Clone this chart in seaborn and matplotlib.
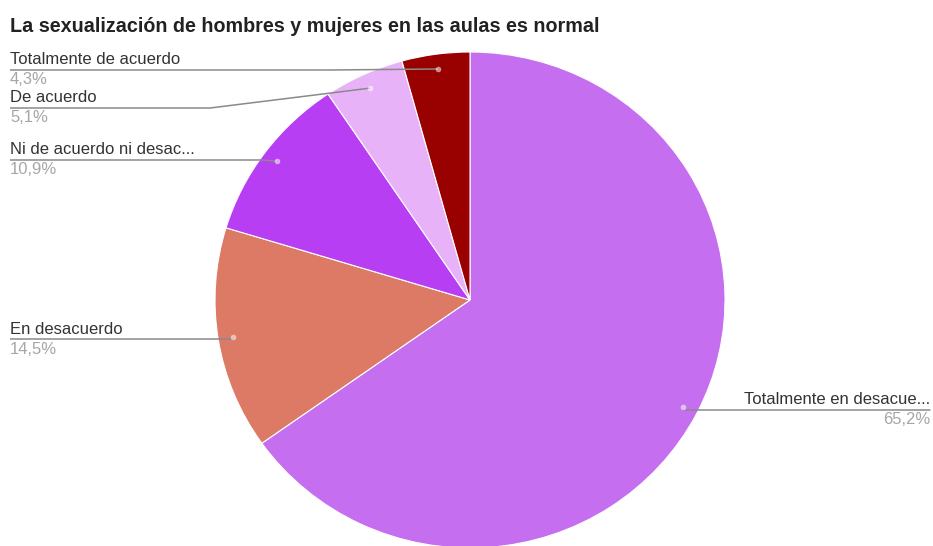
import numpy as np
import matplotlib
matplotlib.use('Agg')
import matplotlib.pyplot as plt
import seaborn as sns

# data (order: clockwise from 12 o'clock)
categories = ["Totalmente en desacuerdo", "En desacuerdo", "Ni de acuerdo ni desacuerdo",
              "De acuerdo", "Totalmente de acuerdo"]
short_labels = ["Totalmente en desacue...", "En desacuerdo", "Ni de acuerdo ni desac...",
                "De acuerdo", "Totalmente de acuerdo"]
percent = [65.2, 14.5, 10.9, 5.1, 4.3]
pct_labels = ["65,2%", "14,5%", "10,9%", "5,1%", "4,3%"]
colors = ["#c56ff0", "#dc7a66", "#b83ef4", "#e8b2f8", "#990000"]

title = "La sexualización de hombres y mujeres en las aulas es normal"

W, H = 933, 546
sns.set_theme(style="white")
plt.rcParams['font.family'] = ['Liberation Sans', 'DejaVu Sans']

fig = plt.figure(figsize=(W / 100, H / 100), dpi=100)

# pie axes (slightly wider than tall, as in the reference)
cx, cy = 470, 300          # centre in image pixels
rx, ry = 255, 248          # horizontal / vertical radius in pixels
ax = fig.add_axes([0, 0, 1, 1])
wedges, _ = ax.pie(percent, colors=colors, startangle=90, counterclock=False,
                   radius=1, wedgeprops={"edgecolor": "white", "linewidth": 0.8})
ax.set_aspect('auto')
ax.set_xlim(-cx / rx, (W - cx) / rx)
ax.set_ylim((cy - H) / ry, cy / ry)
ax.axis('off')

# overlay in pixel units for the leader lines and labels
ov = fig.add_axes([0, 0, 1, 1], facecolor='none')
ov.set_xlim(0, W)
ov.set_ylim(H, 0)
ov.axis('off')

# label layout: (text y in image px, side, knee x)
layout = {
    "Totalmente de acuerdo": (60, "left", 330),
    "De acuerdo": (98, "left", 210),
    "Ni de acuerdo ni desacuerdo": (150, "left", 262),
    "En desacuerdo": (329, "left", None),
    "Totalmente en desacuerdo": (400, "right", None),
}

line_col = "#8a8a8a"
fs = 12
for w, cat, lab, pl in zip(wedges, categories, short_labels, pct_labels):
    mid = np.deg2rad((w.theta1 + w.theta2) / 2)
    dx = cx + 0.94 * rx * np.cos(mid)
    dy = cy - 0.94 * ry * np.sin(mid)
    ty, side, knee = layout[cat]
    ly = ty + 10
    if side == "left":
        xs = [10, knee if knee else dx, dx]
        ys = [ly, ly, dy]
        ov.plot(xs, ys, color=line_col, lw=1.1, solid_capstyle='butt')
        ov.text(10, ty, lab, fontsize=fs, color="#333333", ha="left", va="center")
        ov.text(10, ty + 20, pl, fontsize=fs, color="#a6a6a6", ha="left", va="center")
    else:
        ov.plot([dx, 930], [ly, ly], color=line_col, lw=1.1)
        ov.text(930, ty, lab, fontsize=fs, color="#333333", ha="right", va="center")
        ov.text(930, ty + 20, pl, fontsize=fs, color="#a6a6a6", ha="right", va="center")
    ov.plot(dx, dy, 'o', ms=4, color="white", alpha=0.55, mec="none")

ov.text(10, 27, title, fontsize=14.2, fontweight='bold', color="#222222",
        ha="left", va="center")

fig.savefig("out.png", dpi=100, facecolor="white")
